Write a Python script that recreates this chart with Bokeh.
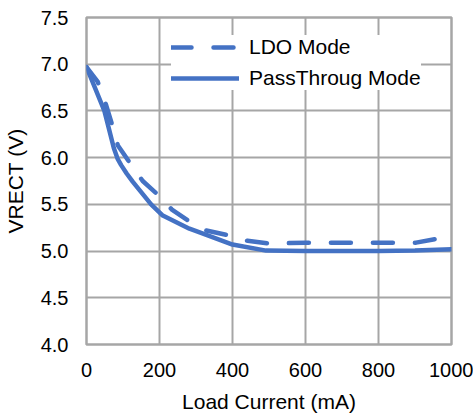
from bokeh.plotting import figure
from bokeh.models import Range1d, Legend, LegendItem, FixedTicker, CustomJSTickFormatter
from bokeh.embed import file_html
from bokeh.resources import INLINE

# Data
pass_x = [0, 49, 75, 85, 95, 110, 127, 177, 209, 282, 310, 400, 492, 600, 700, 800, 900, 1000]
pass_y = [6.97, 6.5, 6.1, 5.99, 5.92, 5.83, 5.74, 5.5, 5.38, 5.24, 5.2, 5.07, 5.005, 5.0, 5.0, 5.0, 5.005, 5.02]

ldo_x = [0, 31, 54, 68, 86, 116, 154, 191, 235, 277, 328, 387, 441, 501, 600, 700, 800, 903, 958, 1000]
ldo_y = [6.97, 6.81, 6.56, 6.38, 6.13, 5.96, 5.75, 5.62, 5.44, 5.33, 5.22, 5.17, 5.11, 5.08, 5.09, 5.09, 5.09, 5.09, 5.13, 5.16]

x_ticks = [0, 200, 400, 600, 800, 1000]
y_ticks = [4.0, 4.5, 5.0, 5.5, 6.0, 6.5, 7.0, 7.5]

BLUE = "#4472C4"
GRID = "#A6A6A6"
FONT = "Liberation Sans"

p = figure(frame_width=365, frame_height=327, output_backend="svg", toolbar_location=None,
           x_range=Range1d(0, 1000), y_range=Range1d(4.0, 7.5),
           min_border_left=86, min_border_right=22, min_border_top=17, min_border_bottom=72)

r_ldo = p.line(ldo_x, ldo_y, line_color=BLUE, line_width=4.5, line_dash="20 22", line_cap="round",
               line_join="round")
r_pass = p.line(pass_x, pass_y, line_color=BLUE, line_width=4.5, line_cap="round", line_join="round")

p.xaxis.ticker = FixedTicker(ticks=x_ticks)
p.yaxis.ticker = FixedTicker(ticks=y_ticks)
p.yaxis.formatter = CustomJSTickFormatter(code="return tick.toFixed(1);")

for ax in (p.xaxis[0], p.yaxis[0]):
    ax.axis_line_color = None
    ax.major_tick_line_color = None
    ax.minor_tick_line_color = None
    ax.major_tick_in = 0
    ax.major_tick_out = 0
    ax.minor_tick_in = 0
    ax.minor_tick_out = 0
    ax.major_label_text_font = FONT
    ax.major_label_text_font_size = "20px"
    ax.major_label_text_color = "#000000"
    ax.axis_label_text_font = FONT
    ax.axis_label_text_font_size = "21px"
    ax.axis_label_text_font_style = "normal"
    ax.axis_label_text_color = "#000000"

p.xaxis.axis_label = "Load Current (mA)"
p.yaxis.axis_label = "VRECT (V)"
p.xaxis.major_label_standoff = 18
p.yaxis.major_label_standoff = 18
p.xaxis.axis_label_standoff = 10
p.yaxis.axis_label_standoff = 11

p.xgrid.ticker = FixedTicker(ticks=x_ticks)
p.ygrid.ticker = FixedTicker(ticks=y_ticks)
p.grid.grid_line_color = GRID
p.grid.grid_line_width = 2
p.outline_line_color = GRID
p.outline_line_width = 2.5
p.background_fill_color = "white"
p.border_fill_color = "white"

legend = Legend(items=[LegendItem(label="LDO Mode", renderers=[r_ldo]),
                       LegendItem(label="PassThroug Mode", renderers=[r_pass])],
                location=(85, 254))
legend.label_text_font = FONT
legend.label_text_font_size = "21px"
legend.label_text_color = "#000000"
legend.glyph_width = 68
legend.glyph_height = 24
legend.label_height = 24
legend.label_standoff = 10
legend.spacing = 7
legend.padding = 4
legend.margin = 0
legend.border_line_color = None
legend.background_fill_color = "white"
legend.background_fill_alpha = 1.0
p.add_layout(legend, "center")

open("out.html", "w").write(file_html(p, INLINE))
